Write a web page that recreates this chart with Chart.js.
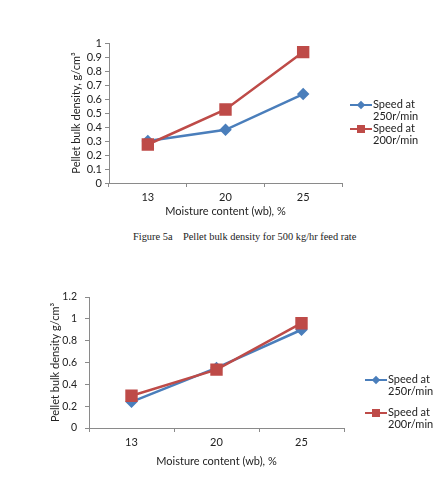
<!DOCTYPE html>
<html>
<head>
<meta charset="utf-8">
<script src="https://cdn.jsdelivr.net/npm/chart.js@4.4.1/dist/chart.umd.min.js"></script>
<style>
  body { margin: 0; background: #fff; }
  #page { position: relative; width: 435px; height: 489px; overflow: hidden; }
  canvas { position: absolute; left: 0; }
  .caption { position: absolute; left: 133px; top: 231px; font: 10.4px "Liberation Serif", serif; color: #222; white-space: pre; }
  .legend { position: absolute; font: 11px Lato, sans-serif; color: #222; line-height: 12px; }
  .item { position: relative; padding-left: 23px; }
  .item .ln { position: absolute; left: 0; top: 6px; width: 22px; height: 2px; }
  .item .mk { position: absolute; }
</style>
</head>
<body>
<div id="page">
  <canvas id="chartA" width="435" height="225" style="top:0"></canvas>
  <div class="caption">Figure 5a    Pellet bulk density for 500 kg/hr feed rate</div>
  <canvas id="chartB" width="435" height="229" style="top:260px"></canvas>
  <div class="legend" id="legA" style="left:350px; top:98px;"></div>
  <div class="legend" id="legB" style="left:365px; top:373px;"></div>
</div>
<script>
// データ
const moisture = ['13', '20', '25'];
const seriesNames = ['Speed at 250r/min', 'Speed at 200r/min'];
// Figure 5a
const fig5a_250 = [0.30, 0.38, 0.635];
const fig5a_200 = [0.275, 0.525, 0.935];
// Figure 5b
const fig5b_250 = [0.24, 0.55, 0.90];
const fig5b_200 = [0.295, 0.535, 0.96];

const BLUE = '#4A7EBB';
const RED = '#BE4B48';
const AXIS = '#8a8a8a';
const FONT = { family: 'Lato, sans-serif', size: 11 };

function makeChart(id, d250, d200, opt) {
    const ctx = document.getElementById(id).getContext('2d');
    return new Chart(ctx, {
        type: 'line',
        data: {
            labels: moisture,
            datasets: [
                {
                    label: seriesNames[0], data: d250,
                    borderColor: BLUE, backgroundColor: BLUE, borderWidth: 2.5,
                    pointStyle: 'rectRot', pointRadius: 4.5, tension: 0, order: 1
                },
                {
                    label: seriesNames[1], data: d200,
                    borderColor: RED, backgroundColor: RED, borderWidth: 2.5,
                    pointStyle: 'rect', pointRadius: 7, tension: 0, order: 0
                }
            ]
        },
        options: {
            responsive: false,
            animation: false,
            layout: { padding: opt.padding },
            plugins: { legend: { display: false }, tooltip: { enabled: false } },
            scales: {
                x: {
                    offset: true,
                    grid: { offset: true, drawOnChartArea: false, drawTicks: true, tickLength: 4, color: AXIS },
                    border: { color: AXIS },
                    ticks: { color: '#222', font: FONT, padding: 4 },
                    title: { display: true, text: 'Moisture content (wb), %', color: '#222', font: FONT },
                    afterFit: s => { s.height = opt.xh; }
                },
                y: {
                    min: 0, max: opt.max,
                    grid: { drawOnChartArea: false, drawTicks: true, tickLength: 4, color: AXIS },
                    border: { color: AXIS },
                    ticks: {
                        stepSize: opt.step, autoSkip: false, color: '#222',
                        font: { family: FONT.family, size: opt.tfont }, padding: opt.tpad,
                        callback: v => String(Number(v.toFixed(2)))
                    },
                    title: { display: true, text: opt.ytitle, color: '#222', font: FONT },
                    afterFit: s => { s.width = opt.yw; }
                }
            }
        }
    });
}

makeChart('chartA', fig5a_250, fig5a_200, {
    max: 1, step: 0.1, ytitle: 'Pellet bulk density, g/cm³',
    padding: { left: 66, right: 93, top: 43, bottom: 3 }, yw: 43, xh: 39, tpad: 3, tfont: 11
});
makeChart('chartB', fig5b_250, fig5b_200, {
    max: 1.2, step: 0.2, ytitle: 'Pellet bulk density g/cm³',
    padding: { left: 45, right: 91, top: 37, bottom: 17 }, yw: 44, xh: 44, tpad: 8, tfont: 10.5
});

// 凡例（2行ラベル）
function legendItem(color, shape, lines, gap) {
    const mk = shape === 'diamond'
        ? `<span class="mk" style="left:8px;top:4px;width:6px;height:6px;background:${color};transform:rotate(45deg)"></span>`
        : `<span class="mk" style="left:7px;top:3px;width:8px;height:8px;background:${color}"></span>`;
    return `<div class="item" style="margin-bottom:${gap}px"><span class="ln" style="background:${color}"></span>${mk}${lines.join('<br>')}</div>`;
}
document.getElementById('legA').innerHTML =
    legendItem(BLUE, 'diamond', ['Speed at', '250r/min'], 0) +
    legendItem(RED, 'square', ['Speed at', '200r/min'], 0);
document.getElementById('legB').innerHTML =
    legendItem(BLUE, 'diamond', ['Speed at', '250r/min'], 9) +
    legendItem(RED, 'square', ['Speed at', '200r/min'], 0);
</script>
</body>
</html>
